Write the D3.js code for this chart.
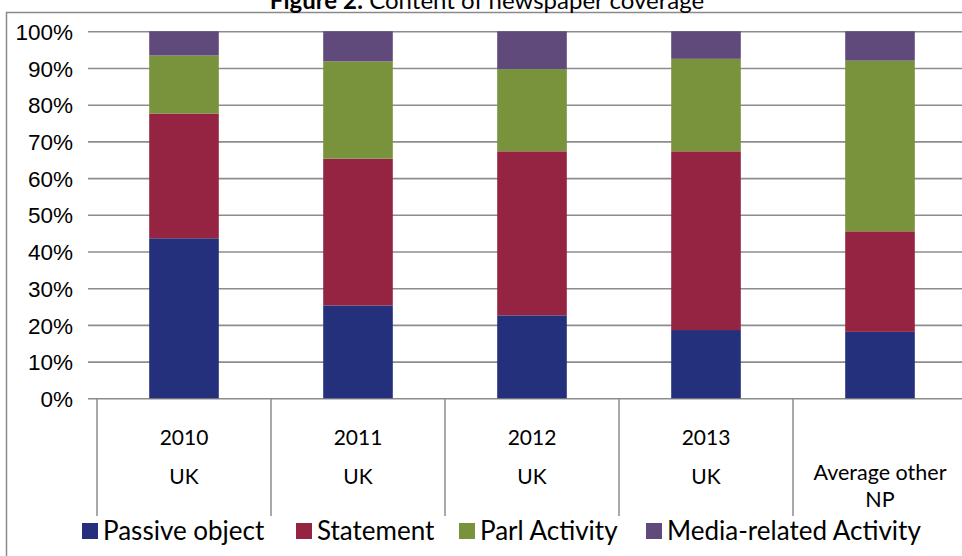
<!DOCTYPE html>
<html>
<head>
<meta charset="utf-8">
<script src="https://cdn.jsdelivr.net/npm/d3@7/dist/d3.min.js"></script>
<style>
  html, body { margin: 0; padding: 0; background: #fff; }
  svg { display: block; font-family: Lato, "Open Sans", sans-serif; }
</style>
</head>
<body>
<svg id="chart" width="962" height="556"></svg>
<script>
// ---- data ----
const years = ["2010", "2011", "2012", "2013", ""];
const groups = ["UK", "UK", "UK", "UK", "Average other NP"];
const seriesNames = ["Passive object", "Statement", "Parl Activity", "Media-related Activity"];
const passiveObject = [43.6, 25.3, 22.6, 18.6, 18.1];
const statement = [34.0, 40.0, 44.7, 48.7, 27.4];
const parlActivity = [15.8, 26.5, 22.4, 25.2, 46.5];
const mediaActivity = [6.6, 8.2, 10.3, 7.5, 8.0];
const yTicks = [0, 10, 20, 30, 40, 50, 60, 70, 80, 90, 100];
const colors = ["#24307c", "#952443", "#78933c", "#604a7b"];
const titleBold = "Figure 2:";
const titleRest = " Content of newspaper coverage";

(function () {
// ---- build ----
const cats = years.map((yv, i) => i);
const table = cats.map(i => ({
  idx: i,
  "Passive object": passiveObject[i],
  "Statement": statement[i],
  "Parl Activity": parlActivity[i],
  "Media-related Activity": mediaActivity[i]
}));
const layers = d3.stack().keys(seriesNames)(table);

const svg = d3.select("#chart");
const mLeft = 97, mRight = 967, mTop = 31.3, mBottom = 398.3;

const x = d3.scaleBand().domain(cats).range([mLeft, mRight]).paddingInner(0.6).paddingOuter(0.3);
const y = d3.scaleLinear().domain([0, 100]).range([mBottom, mTop]);

// outer border
svg.append("rect").attr("x", 6.5).attr("y", 12.5).attr("width", 980).attr("height", 600)
  .attr("fill", "none").attr("stroke", "#8a8a8a").attr("stroke-width", 1.5);

// title
const title = svg.append("text").attr("x", 487).attr("y", 9).attr("text-anchor", "middle")
  .attr("font-size", 24).attr("fill", "#000");
title.append("tspan").attr("font-weight", "bold").text(titleBold);
title.append("tspan").text(titleRest);

// gridlines + y axis
const yAxis = d3.axisLeft(y).tickValues(yTicks).tickSize(0).tickPadding(0)
  .tickFormat(d => d + "%");
const gy = svg.append("g").attr("transform", `translate(${mLeft - 9},0)`).call(yAxis);
gy.select(".domain").remove();
gy.selectAll(".tick line").attr("stroke", "#8c8c8c").attr("stroke-width", 1.6)
  .attr("x1", 0).attr("x2", mRight - mLeft + 9);
gy.selectAll(".tick text").attr("font-size", 22.5).attr("fill", "#000")
  .attr("x", -15).attr("dy", "0.36em");

// bars
svg.append("g").selectAll("g").data(layers).join("g")
  .attr("fill", (d, i) => colors[i])
  .selectAll("rect").data(d => d).join("rect")
  .attr("x", d => x(d.data.idx))
  .attr("width", x.bandwidth())
  .attr("y", d => y(d[1]))
  .attr("height", d => y(d[0]) - y(d[1]));

// category separators
const step = x.step();
const sepX = d3.range(cats.length + 1).map(i => mLeft + i * step);
svg.append("g").selectAll("line").data(sepX).join("line")
  .attr("x1", d => d).attr("x2", d => d).attr("y1", mBottom).attr("y2", 516)
  .attr("stroke", "#8c8c8c").attr("stroke-width", 1.5);

// category labels
const cx = i => x(i) + x.bandwidth() / 2;
svg.append("g").selectAll("text").data(cats).join("text")
  .attr("x", cx).attr("y", 445).attr("text-anchor", "middle")
  .attr("font-size", 21).text(i => years[i]);
const gl = svg.append("g").selectAll("text").data(cats).join("text")
  .attr("x", cx).attr("text-anchor", "middle").attr("font-size", 21);
gl.each(function(i) {
  const words = groups[i].split(" ");
  const t = d3.select(this);
  if (words.length === 1) {
    t.attr("y", 484).text(groups[i]);
  } else {
    t.attr("y", 480).attr("font-size", 21.5);
    t.append("tspan").attr("x", cx(i)).text(words.slice(0, 2).join(" "));
    t.append("tspan").attr("x", cx(i)).attr("dy", 27).text(words.slice(2).join(" "));
  }
});

// legend
const legendX = [82, 296, 459, 646];
const lg = svg.append("g").selectAll("g").data(seriesNames).join("g")
  .attr("transform", (d, i) => `translate(${legendX[i]},523)`);
lg.append("rect").attr("width", 16).attr("height", 16).attr("fill", (d, i) => colors[i]);
lg.append("text").attr("x", 21).attr("y", 17).attr("font-size", 26).attr("fill", "#000").text(d => d);
})();
</script>
</body>
</html>
